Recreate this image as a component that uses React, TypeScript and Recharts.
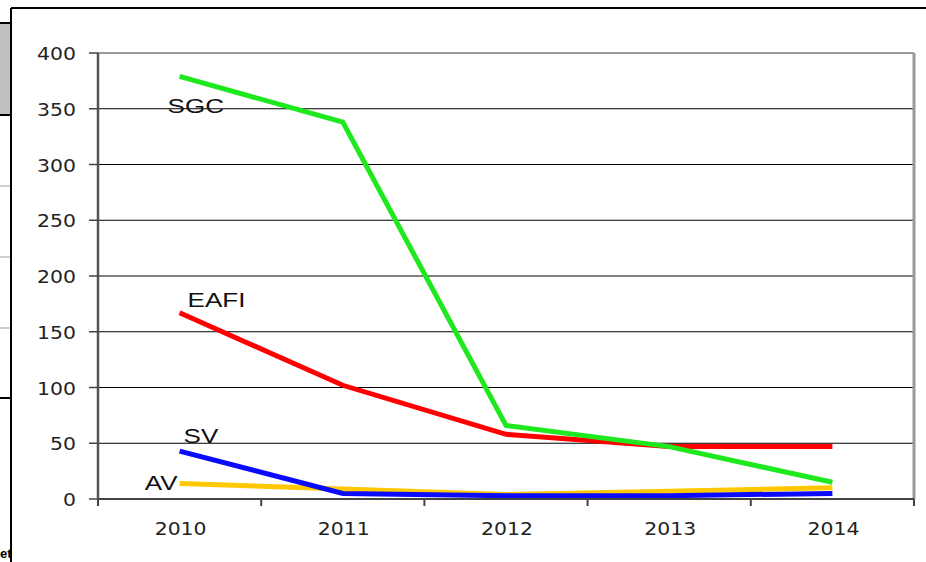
import React from "react";
import { LineChart, Line, XAxis, YAxis, CartesianGrid, ReferenceLine } from "recharts";

const years = ["2010", "2011", "2012", "2013", "2014"];
const sgc = [379, 338, 66, 47, 15];
const eafi = [167, 102, 58, 47, 47];
const sv = [43, 5, 3, 3, 5];
const av = [14, 9, 4, 7, 10];
const yTicks = [0, 50, 100, 150, 200, 250, 300, 350, 400];

const data = years.map((y, i) => ({
  x: i + 0.5,
  year: y,
  SGC: sgc[i],
  EAFI: eafi[i],
  SV: sv[i],
  AV: av[i],
}));

const xTicks: number[] = [];
for (let i = 0; i <= years.length; i++) {
  xTicks.push(i);
  if (i < years.length) xTicks.push(i + 0.5);
}

const TICK_FONT = "'DejaVu Sans', Verdana, sans-serif";
const LABEL_FONT = "'Liberation Sans', Arial, sans-serif";

const XTick = (props: any) => {
  const { x, y, payload } = props;
  const v = payload.value as number;
  if (Number.isInteger(v)) {
    return <line x1={x} x2={x} y1={y} y2={y + 7} stroke="#444" strokeWidth={2} />;
  }
  const label = years[Math.floor(v)];
  return (
    <g transform={`translate(${x + 1},${y + 36}) scale(1.2,1)`}>
      <text x={0} y={0} textAnchor="middle" fontFamily={TICK_FONT} fontSize={17} fill="#222">
        {label}
      </text>
    </g>
  );
};

const YTick = (props: any) => {
  const { x, y, payload } = props;
  return (
    <g transform={`translate(${x},${y + 7}) scale(1.2,1)`}>
      <text x={0} y={0} textAnchor="end" fontFamily={TICK_FONT} fontSize={17} fill="#222">
        {payload.value}
      </text>
    </g>
  );
};

const makeLabel = (name: string, dx: number, dy: number, anchor: "start" | "end") => (props: any) => {
  const { x, y, index } = props;
  if (index !== 0) return null;
  return (
    <g transform={`translate(${x + dx},${y + dy}) scale(1.3,1)`}>
      <text x={0} y={0} textAnchor={anchor} fontFamily={LABEL_FONT} fontSize={20} fill="#111">
        {name}
      </text>
    </g>
  );
};

export default function App() {
  return (
    <div style={{ position: "absolute", left: 0, top: 0, width: 926, height: 562, background: "#fff", overflow: "hidden" }}>
      <svg width={926} height={562} style={{ position: "absolute", left: 0, top: 0 }}>
        <rect x={0} y={22} width={11} height={93} fill="#c0c0c0" />
        <line x1={0} x2={11} y1={23} y2={23} stroke="#000" strokeWidth={2} />
        <line x1={0} x2={11} y1={115} y2={115} stroke="#000" strokeWidth={2} />
        <line x1={0} x2={11} y1={186} y2={186} stroke="#cfcfcf" strokeWidth={2} />
        <line x1={0} x2={11} y1={257} y2={257} stroke="#cfcfcf" strokeWidth={2} />
        <line x1={0} x2={11} y1={328} y2={328} stroke="#cfcfcf" strokeWidth={2} />
        <line x1={0} x2={11} y1={398} y2={398} stroke="#000" strokeWidth={2} />
        <text x={0} y={558} fontFamily={LABEL_FONT} fontSize={13} fontWeight="bold" fill="#000">et</text>
        <line x1={11} x2={926} y1={8} y2={8} stroke="#000" strokeWidth={2} />
        <line x1={11} x2={11} y1={8} y2={562} stroke="#000" strokeWidth={2} />
      </svg>
      <div style={{ position: "absolute", left: 0, top: 0 }}>
        <LineChart width={926} height={562} data={data} margin={{ top: 53, right: 12, bottom: 0, left: 0 }}>
          <CartesianGrid horizontal={true} vertical={false} stroke="#000" strokeWidth={1} />
          <XAxis
            dataKey="x"
            type="number"
            domain={[0, 5]}
            ticks={xTicks}
            interval={0}
            tick={<XTick />}
            tickLine={false}
            tickSize={0}
            tickMargin={0}
            height={63}
            axisLine={{ stroke: "#444", strokeWidth: 2 }}
          />
          <YAxis
            type="number"
            domain={[0, 400]}
            ticks={yTicks}
            interval={0}
            width={98}
            tickSize={9}
            tickMargin={13}
            tick={<YTick />}
            tickLine={{ stroke: "#444", strokeWidth: 1.5 }}
            axisLine={{ stroke: "#555", strokeWidth: 2.5 }}
          />
          <ReferenceLine y={400} stroke="#9a9a9a" strokeWidth={2} />
          <ReferenceLine x={5} stroke="#9a9a9a" strokeWidth={3} />
          <Line dataKey="EAFI" stroke="#ff0000" strokeWidth={5} dot={false} isAnimationActive={false} label={makeLabel("EAFI", 8, -6, "start")} />
          <Line dataKey="SGC" stroke="#1ee81e" strokeWidth={5} dot={false} isAnimationActive={false} label={makeLabel("SGC", -12, 37, "start")} />
          <Line dataKey="AV" stroke="#ffc800" strokeWidth={5} dot={false} isAnimationActive={false} label={makeLabel("AV", -2, 7, "end")} />
          <Line dataKey="SV" stroke="#0a0aff" strokeWidth={5} dot={false} isAnimationActive={false} label={makeLabel("SV", 4, -8, "start")} />
        </LineChart>
      </div>
    </div>
  );
}
